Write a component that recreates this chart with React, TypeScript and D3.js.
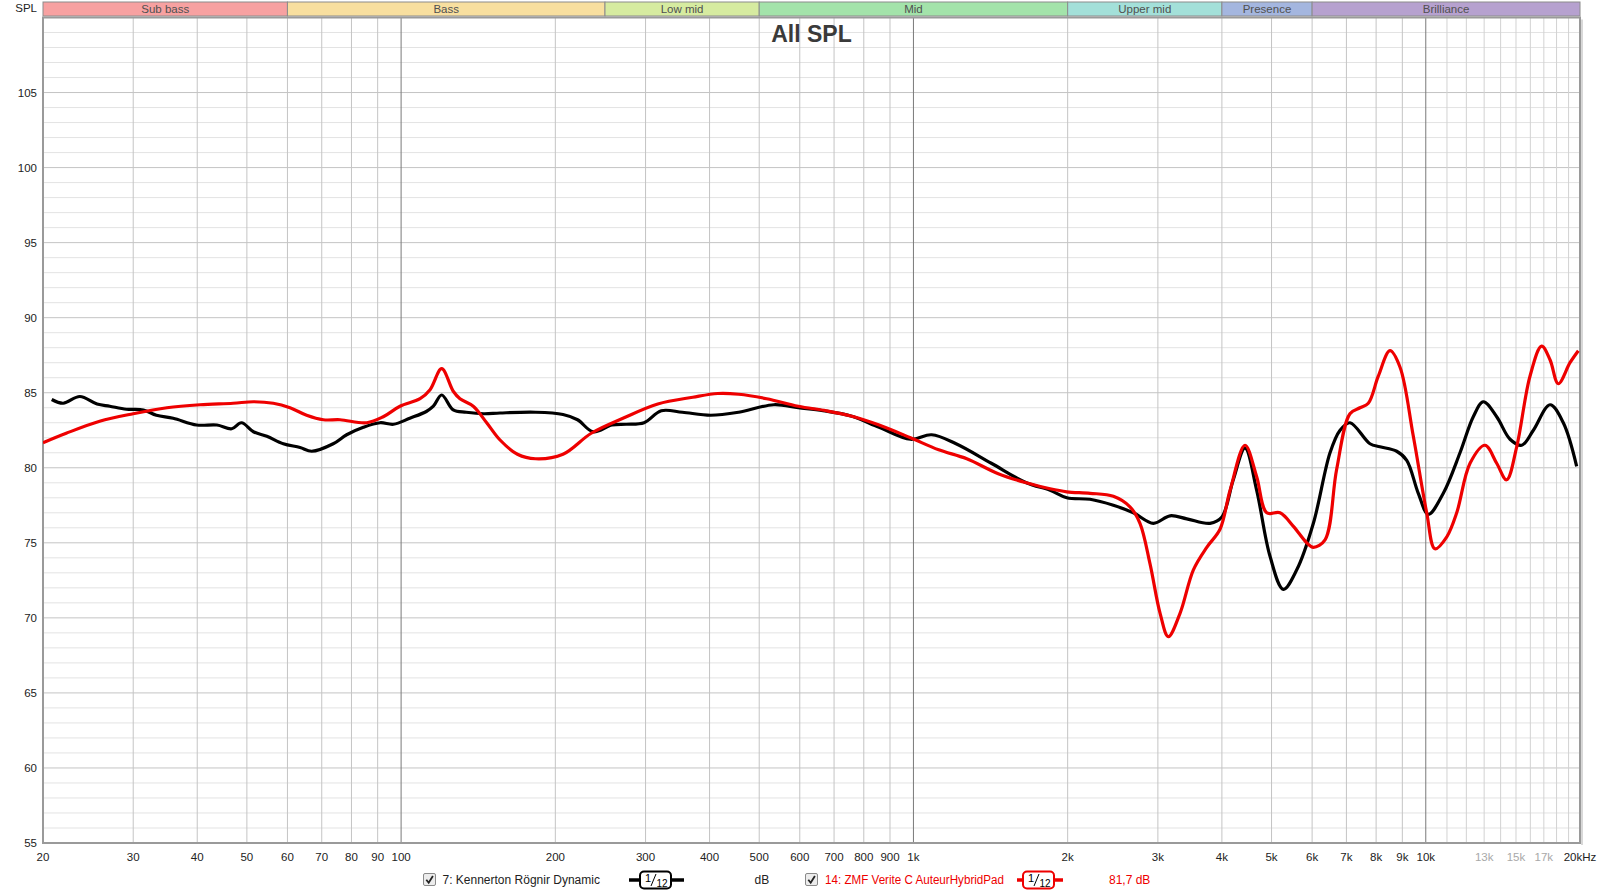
import React, { useEffect } from 'react';
import * as d3 from 'd3';

// ---- Data ----
const bandNames = ['Sub bass', 'Bass', 'Low mid', 'Mid', 'Upper mid', 'Presence', 'Brilliance'];
const bandEdges = [20, 60, 250, 500, 2000, 4000, 6000, 20000];
const bandColors = ['#f7a1a1', '#f8df9f', '#d6eba0', '#a3e3aa', '#a3e0d9', '#a4b6df', '#b6a1cf'];

const yTicks = [55, 60, 65, 70, 75, 80, 85, 90, 95, 100, 105];

const xTickFreqs = [20, 30, 40, 50, 60, 70, 80, 90, 100, 200, 300, 400, 500, 600, 700, 800, 900, 1000,
  2000, 3000, 4000, 5000, 6000, 7000, 8000, 9000, 10000, 13000, 15000, 17000, 20000];
const xTickLabels = ['20', '30', '40', '50', '60', '70', '80', '90', '100', '200', '300', '400', '500', '600',
  '700', '800', '900', '1k', '2k', '3k', '4k', '5k', '6k', '7k', '8k', '9k', '10k', '13k', '15k', '17k', '20kHz'];
const xTickGray = ['13k', '15k', '17k'];

const gridFreqs = [30, 40, 50, 60, 70, 80, 90, 100, 200, 300, 400, 500, 600, 700, 800, 900, 1000,
  2000, 3000, 4000, 5000, 6000, 7000, 8000, 9000, 10000, 11000, 12000, 13000, 14000, 15000, 16000,
  17000, 18000, 19000];
const decadeFreqs = [100, 1000, 10000];

// [frequency Hz, SPL dB]
const kennerton: [number, number][] = [
  [20.8, 84.55], [21.9, 84.3], [23.6, 84.75], [25.5, 84.25], [27.0, 84.1], [29.1, 83.9], [31.4, 83.85],
  [33.3, 83.5], [35.9, 83.3], [39.9, 82.85], [43.7, 82.85], [46.7, 82.6], [48.8, 83.0], [51.5, 82.4],
  [54.7, 82.1], [58.9, 81.6], [63.5, 81.35], [66.9, 81.1], [73.7, 81.6], [78.3, 82.2], [84.4, 82.7],
  [91, 83.0], [96.6, 82.9], [104, 83.3], [112, 83.75], [115.6, 84.1], [120, 84.85], [126.4, 83.85],
  [134, 83.7], [145, 83.6], [156, 83.65], [183, 83.7], [207, 83.55], [221, 83.2], [237, 82.4],
  [258, 82.85], [275, 82.9], [298, 83.0], [322, 83.8], [354, 83.7], [402, 83.5], [456, 83.7],
  [534, 84.2], [596, 84.0], [666, 83.8], [755, 83.45], [857, 82.7], [987, 81.9], [1085, 82.2],
  [1211, 81.6], [1419, 80.3], [1661, 79.0], [1848, 78.5], [1992, 78.0], [2212, 77.9], [2456, 77.5],
  [2687, 77.0], [2939, 76.3], [3169, 76.8], [3416, 76.6], [3792, 76.3], [3996, 76.7], [4210, 79.2],
  [4438, 81.3], [4677, 78.5], [4966, 74.1], [5272, 71.9], [5600, 73.2], [6034, 76.3], [6503, 81.0],
  [6803, 82.5], [7112, 83.0], [7782, 81.6], [8138, 81.4], [8775, 81.1], [9180, 80.5], [9670, 78.3],
  [10114, 76.9], [10820, 78.3], [11664, 81.0], [12380, 83.4], [12952, 84.4], [13754, 83.4],
  [14604, 81.9], [15392, 81.5], [16218, 82.5], [17478, 84.2], [18554, 83.0], [19702, 80.1],
];

const zmf: [number, number][] = [
  [20.0, 81.67], [22.2, 82.3], [25.8, 83.1], [30.0, 83.6], [34.9, 84.0], [40.5, 84.2], [47.0, 84.3],
  [51.5, 84.4], [56.3, 84.3], [60.7, 84.0], [65.4, 83.5], [70.5, 83.2], [76.0, 83.2], [85.7, 83.0],
  [92.3, 83.4], [99.5, 84.1], [108.9, 84.6], [113.9, 85.2], [120, 86.6], [126.4, 85.1], [130.3, 84.6],
  [138.3, 84.1], [146.9, 83.0], [156, 81.85], [168.7, 80.9], [183, 80.6], [207, 80.9], [235, 82.3],
  [271, 83.3], [317, 84.25], [371, 84.7], [415, 84.95], [456, 84.9], [517, 84.6], [596, 84.1],
  [676, 83.8], [755, 83.45], [857, 82.85], [987, 82.0], [1120, 81.2], [1271, 80.6], [1464, 79.6],
  [1661, 79.0], [1848, 78.6], [1992, 78.4], [2212, 78.3], [2456, 78.1], [2646, 77.4], [2768, 76.3],
  [2896, 73.6], [3030, 70.3], [3144, 68.75], [3314, 70.3], [3519, 73.2], [3737, 74.7], [3966, 75.9],
  [4150, 78.5], [4438, 81.5], [4677, 79.4], [4893, 77.0], [5194, 77.0], [5516, 76.1], [5857, 75.0],
  [6034, 74.7], [6359, 75.2], [6700, 79.9], [7112, 83.6], [7440, 84.0], [7724, 84.3], [8078, 86.1],
  [8514, 87.8], [8908, 86.7], [9456, 82.1], [10042, 77.0], [10420, 74.6], [10990, 75.4], [11492, 77.0],
  [12202, 80.3], [13052, 81.5], [13754, 80.3], [14380, 79.2], [15048, 81.4], [15974, 86.1],
  [16830, 88.1], [17478, 87.2], [18142, 85.6], [19120, 87.0], [19850, 87.8],
];

const seriesNames = ['7: Kennerton Rögnir Dynamic', '14: ZMF Verite C AuteurHybridPad'];
const seriesColors = ['#000000', '#ee0000'];
const seriesLevels = ['dB', '81,7 dB'];

// ---- Layout ----
const W = 1600;
const H = 895;
const L = 43, R = 1580, T = 17.5, B = 843;
const FONT = "'Liberation Sans', Arial, Helvetica, sans-serif";

function Checkbox({ x, y }: { x: number; y: number }) {
  return (
    <g>
      <rect x={x} y={y} width={12} height={12} rx={1.5} fill="#ececec" stroke="#8a8a8a" strokeWidth={1} />
      <path d={`M${x + 2.8},${y + 6.2} L${x + 5.2},${y + 9.2} L${x + 9.4},${y + 2.6}`} fill="none" stroke="#222" strokeWidth={1.8} />
    </g>
  );
}

function FilterSymbol({ x0, x1, bx, color, cy }: { x0: number; x1: number; bx: number; color: string; cy: number }) {
  const bw = 31, bh = 17;
  return (
    <g>
      <line x1={x0} x2={x1} y1={cy} y2={cy} stroke={color} strokeWidth={3.5} />
      <rect x={bx} y={cy - bh / 2} width={bw} height={bh} rx={4} fill="#fff" stroke={color} strokeWidth={2} />
      <text x={bx + 8} y={cy + 1.5} fontSize={11} fill="#000" textAnchor="middle" fontFamily={FONT}>1</text>
      <line x1={bx + 11} y1={cy + 6} x2={bx + 16} y2={cy - 6} stroke="#000" strokeWidth={1} />
      <text x={bx + 22} y={cy + 6.5} fontSize={10} fill="#000" textAnchor="middle" fontFamily={FONT}>12</text>
    </g>
  );
}

export default function App() {
  useEffect(() => {
    document.body.style.margin = '0';
  }, []);

  const x = d3.scaleLog().domain([20, 20000]).range([L, R]);
  const y = d3.scaleLinear().domain([55, 110]).range([B, T]);

  const line = d3
    .line<[number, number]>()
    .x((d) => x(d[0]))
    .y((d) => y(d[1]))
    .curve(d3.curveCatmullRom.alpha(0.5));

  const minorY = d3.range(56, 110, 1).filter((v) => v % 5 !== 0);
  const majorY = d3.range(60, 110, 5);

  const legendY = 880;

  return (
    <svg width={W} height={H} style={{ display: 'block', background: '#fff' }} fontFamily={FONT}>
      <rect x={0} y={0} width={W} height={H} fill="#fff" />
      <defs>
        <clipPath id="plotClip">
          <rect x={L} y={T} width={R - L} height={B - T} />
        </clipPath>
      </defs>

      {/* band bar */}
      {bandNames.map((name, i) => {
        const x0 = x(bandEdges[i]);
        const x1 = x(bandEdges[i + 1]);
        return (
          <g key={name}>
            <rect x={x0} y={2} width={x1 - x0} height={14} fill={bandColors[i]} stroke="#8c8c8c" strokeWidth={1} />
            <text x={(x0 + x1) / 2} y={13} textAnchor="middle" fontSize={11.5} fill="#505050">{name}</text>
          </g>
        );
      })}

      {/* horizontal grid */}
      {minorY.map((v) => (
        <line key={'m' + v} x1={L} x2={R} y1={y(v)} y2={y(v)} stroke="#e3e3e3" strokeWidth={1} />
      ))}
      {majorY.map((v) => (
        <line key={'M' + v} x1={L} x2={R} y1={y(v)} y2={y(v)} stroke="#c4c4c4" strokeWidth={1} />
      ))}

      {/* vertical grid */}
      {gridFreqs.map((f) => (
        <line
          key={'v' + f}
          x1={x(f)}
          x2={x(f)}
          y1={T}
          y2={B}
          stroke={decadeFreqs.includes(f) ? '#7a7a7a' : f > 10000 ? '#d2d2d2' : '#c4c4c4'}
          strokeWidth={1}
        />
      ))}

      {/* frame */}
      <rect x={L} y={T} width={R - L} height={B - T} fill="none" stroke="#9a9a9a" strokeWidth={2} />
      <line x1={R + 2} x2={R + 2} y1={T + 2} y2={B + 2} stroke="#d8d8d8" strokeWidth={2} />

      {/* title */}
      <text x={(L + R) / 2} y={42} textAnchor="middle" fontSize={23} fontWeight="bold" fill="#3a3a3a">All SPL</text>

      {/* curves */}
      <g clipPath="url(#plotClip)">
        <path d={line(kennerton) || ''} fill="none" stroke={seriesColors[0]} strokeWidth={3.2} strokeLinejoin="round" />
        <path d={line(zmf) || ''} fill="none" stroke={seriesColors[1]} strokeWidth={3.2} strokeLinejoin="round" />
      </g>

      {/* y axis labels */}
      <text x={37} y={12} textAnchor="end" fontSize={11.5} fill="#222">SPL</text>
      {yTicks.map((v) => (
        <text key={'yl' + v} x={37} y={y(v) + 4} textAnchor="end" fontSize={11.5} fill="#222">{v}</text>
      ))}

      {/* x axis labels */}
      {xTickFreqs.map((f, i) => (
        <text
          key={'xl' + f}
          x={x(f)}
          y={861}
          textAnchor="middle"
          fontSize={11.5}
          fill={xTickGray.includes(xTickLabels[i]) ? '#a8a8a8' : '#222'}
        >
          {xTickLabels[i]}
        </text>
      ))}

      {/* legend */}
      <Checkbox x={423.5} y={legendY - 6.5} />
      <text x={442.5} y={legendY + 4} fontSize={12} fill="#222">{seriesNames[0]}</text>
      <FilterSymbol x0={629} x1={684} bx={640} color={seriesColors[0]} cy={legendY} />
      <text x={754.5} y={legendY + 4} fontSize={12} fill="#222">{seriesLevels[0]}</text>

      <Checkbox x={805.5} y={legendY - 6.5} />
      <text x={825} y={legendY + 4} fontSize={12} fill={seriesColors[1]} textLength={179} lengthAdjust="spacingAndGlyphs">{seriesNames[1]}</text>
      <FilterSymbol x0={1017} x1={1063} bx={1023} color={seriesColors[1]} cy={legendY} />
      <text x={1109} y={legendY + 4} fontSize={12} fill={seriesColors[1]}>{seriesLevels[1]}</text>
    </svg>
  );
}
